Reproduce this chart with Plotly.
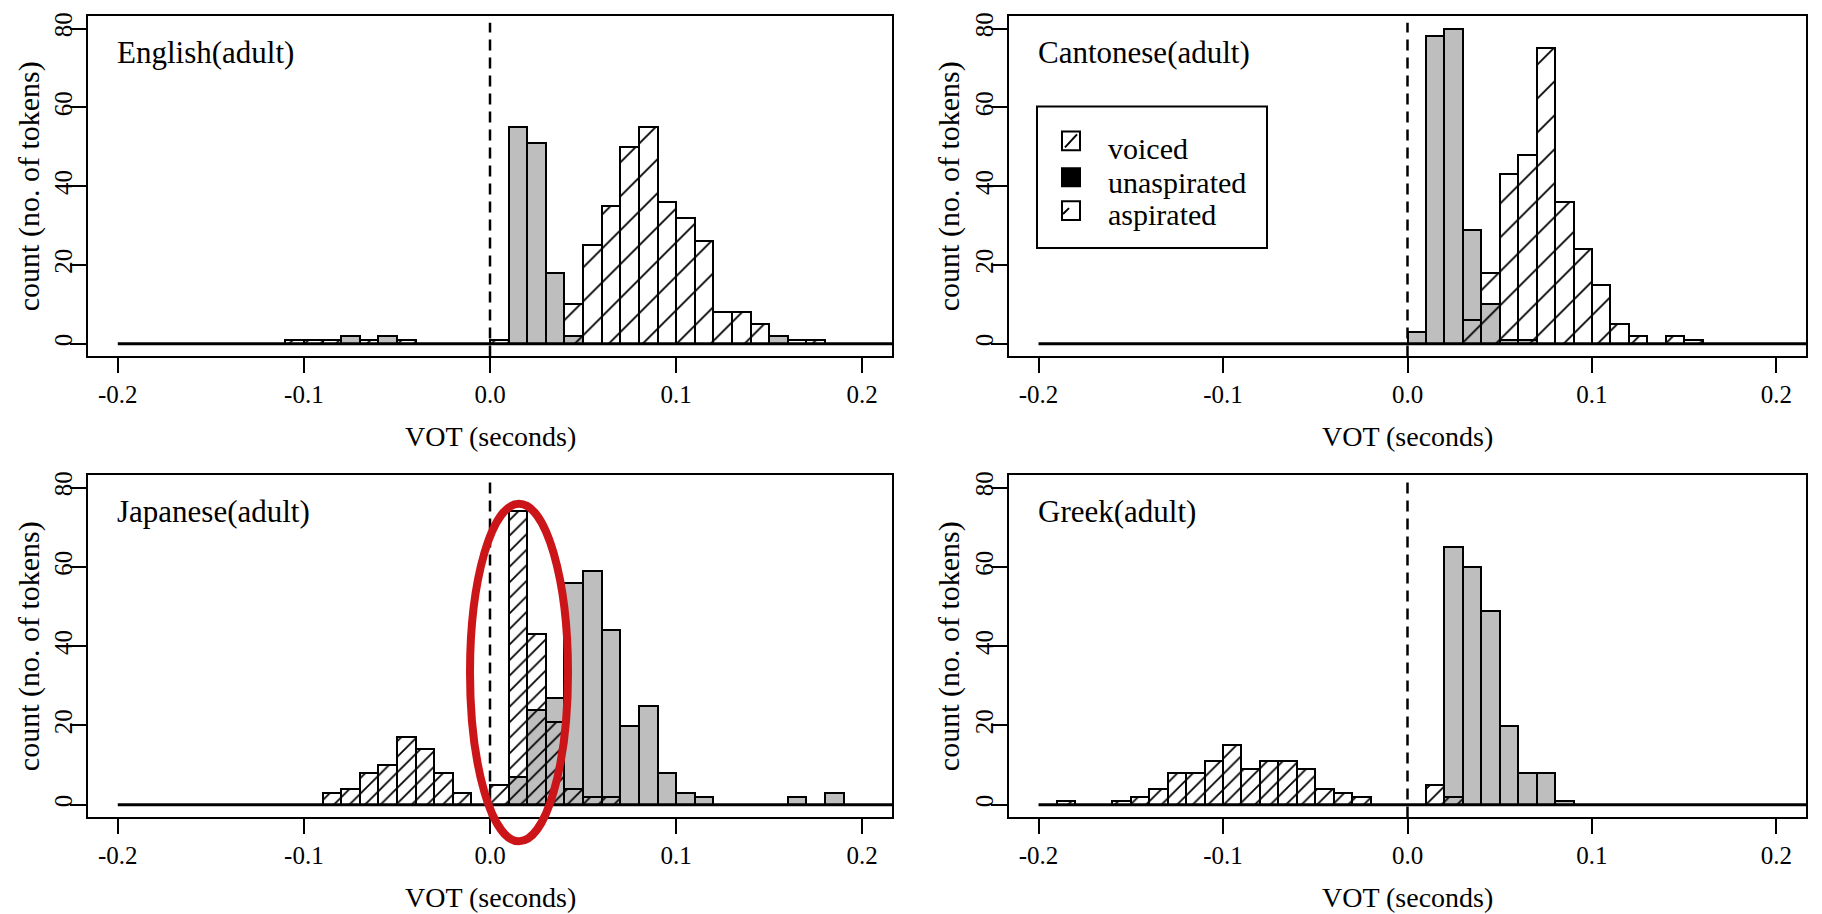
import plotly.graph_objects as go

W, H = 1822, 914
BIN_WIDTH = 0.01

PANEL_TITLES = ["English(adult)", "Cantonese(adult)", "Japanese(adult)", "Greek(adult)"]
X_TICKS = [-0.2, -0.1, 0.0, 0.1, 0.2]
X_TICK_LABELS = ["-0.2", "-0.1", "0.0", "0.1", "0.2"]
Y_TICKS = [0, 20, 40, 60, 80]
LEGEND_LABELS = ["voiced", "unaspirated", "aspirated"]

# ---- English (adult) : bin left edges and counts ----
ENG_VOICED_BINS = [-0.11, -0.10, -0.09, -0.07, -0.05, 0.00]
ENG_VOICED_COUNTS = [1, 1, 1, 1, 1, 1]
ENG_UNASP_BINS = [-0.08, -0.06, 0.01, 0.02, 0.03, 0.04, 0.15]
ENG_UNASP_COUNTS = [2, 2, 55, 51, 18, 2, 2]
ENG_ASP_BINS = [0.04, 0.05, 0.06, 0.07, 0.08, 0.09, 0.10, 0.11, 0.12, 0.13, 0.14, 0.16, 0.17]
ENG_ASP_COUNTS = [10, 25, 35, 50, 55, 36, 32, 26, 8, 8, 5, 1, 1]

# ---- Cantonese (adult) ----
CAN_VOICED_BINS = []
CAN_VOICED_COUNTS = []
CAN_UNASP_BINS = [0.00, 0.01, 0.02, 0.03, 0.04, 0.05, 0.06]
CAN_UNASP_COUNTS = [3, 78, 80, 29, 10, 1, 1]
CAN_ASP_BINS = [0.03, 0.04, 0.05, 0.06, 0.07, 0.08, 0.09, 0.10, 0.11, 0.12, 0.14, 0.15]
CAN_ASP_COUNTS = [6, 18, 43, 48, 75, 36, 24, 15, 5, 2, 2, 1]

# ---- Japanese (adult) ----
JPN_VOICED_BINS = [-0.09, -0.08, -0.07, -0.06, -0.05, -0.04, -0.03, -0.02,
                   0.00, 0.01, 0.02, 0.03, 0.04, 0.05, 0.06]
JPN_VOICED_COUNTS = [3, 4, 8, 10, 17, 14, 8, 3, 5, 74, 43, 21, 4, 2, 2]
JPN_UNASP_BINS = [0.01, 0.02, 0.03, 0.04, 0.05, 0.06, 0.07, 0.08, 0.09, 0.10, 0.11, 0.16, 0.18]
JPN_UNASP_COUNTS = [7, 24, 27, 56, 59, 44, 20, 25, 8, 3, 2, 2, 3]
JPN_ASP_BINS = []
JPN_ASP_COUNTS = []

# ---- Greek (adult) ----
GRK_VOICED_BINS = [-0.19, -0.16, -0.15, -0.14, -0.13, -0.12, -0.11, -0.10, -0.09,
                   -0.08, -0.07, -0.06, -0.05, -0.04, -0.03, 0.01, 0.02]
GRK_VOICED_COUNTS = [1, 1, 2, 4, 8, 8, 11, 15, 9, 11, 11, 9, 4, 3, 2, 5, 2]
GRK_UNASP_BINS = [0.02, 0.03, 0.04, 0.05, 0.06, 0.07, 0.08]
GRK_UNASP_COUNTS = [65, 60, 49, 20, 8, 8, 1]
GRK_ASP_BINS = []
GRK_ASP_COUNTS = []

PANELS = [
    (ENG_VOICED_BINS, ENG_VOICED_COUNTS, ENG_UNASP_BINS, ENG_UNASP_COUNTS, ENG_ASP_BINS, ENG_ASP_COUNTS),
    (CAN_VOICED_BINS, CAN_VOICED_COUNTS, CAN_UNASP_BINS, CAN_UNASP_COUNTS, CAN_ASP_BINS, CAN_ASP_COUNTS),
    (JPN_VOICED_BINS, JPN_VOICED_COUNTS, JPN_UNASP_BINS, JPN_UNASP_COUNTS, JPN_ASP_BINS, JPN_ASP_COUNTS),
    (GRK_VOICED_BINS, GRK_VOICED_COUNTS, GRK_UNASP_BINS, GRK_UNASP_COUNTS, GRK_ASP_BINS, GRK_ASP_COUNTS),
]

FONT = "Liberation Serif"
GREY = "#bebebe"

# layout geometry (pixels)
COLS = [(88, 892), (1009, 1806)]
ROWS = [(12, 354), (473, 817)]
XR = [-0.216, 0.216]
YR = [-3.2, 83.2]


def px(x, y):
    return x / W, 1 - y / H


fig = go.Figure()
shapes = []
annotations = []

for i, (vb, vc, ub, uc, ab, ac) in enumerate(PANELS):
    r, c = divmod(i, 2)
    xa = "x" if i == 0 else f"x{i+1}"
    ya = "y" if i == 0 else f"y{i+1}"
    # unaspirated (grey) first
    fig.add_trace(go.Bar(
        x=[b + BIN_WIDTH / 2 for b in ub], y=uc, width=BIN_WIDTH,
        marker=dict(color=GREY, line=dict(color="black", width=2)),
        xaxis=xa, yaxis=ya, showlegend=False, hoverinfo="skip"))
    # aspirated (sparse hatch)
    fig.add_trace(go.Bar(
        x=[b + BIN_WIDTH / 2 for b in ab], y=ac, width=BIN_WIDTH,
        marker=dict(color="black", line=dict(color="black", width=2),
                    pattern=dict(shape="/", size=24, solidity=0.075,
                                 fgcolor="black", bgcolor="rgba(0,0,0,0)", fillmode="replace")),
        xaxis=xa, yaxis=ya, showlegend=False, hoverinfo="skip"))
    # voiced (dense hatch)
    fig.add_trace(go.Bar(
        x=[b + BIN_WIDTH / 2 for b in vb], y=vc, width=BIN_WIDTH,
        marker=dict(color="black", line=dict(color="black", width=2),
                    pattern=dict(shape="/", size=11, solidity=0.16,
                                 fgcolor="black", bgcolor="rgba(0,0,0,0)", fillmode="replace")),
        xaxis=xa, yaxis=ya, showlegend=False, hoverinfo="skip"))

    x0, x1 = COLS[c]
    top, bot = ROWS[r]
    axis_common = dict(showline=True, mirror=True, linecolor="black", linewidth=2,
                       ticks="outside", tickcolor="black", tickwidth=2,
                       showgrid=False, zeroline=False,
                       tickfont=dict(family=FONT, size=25, color="black"))
    fig.layout[("xaxis" if i == 0 else f"xaxis{i+1}")] = dict(
        domain=[x0 / W, x1 / W], anchor=ya, range=XR,
        tickvals=X_TICKS, ticktext=X_TICK_LABELS, ticklen=15, **axis_common)
    fig.layout[("yaxis" if i == 0 else f"yaxis{i+1}")] = dict(
        domain=[1 - bot / H, 1 - top / H], anchor=xa, range=YR,
        tickvals=Y_TICKS, ticklen=16, tickangle=-90, ticklabelstandoff=-12, **axis_common)

    # baseline of zero-count bins
    shapes.append(dict(type="line", xref=xa, yref=ya, x0=-0.2, x1=0.22, y0=0, y1=0,
                       line=dict(color="black", width=3), layer="above"))
    # dashed line at VOT = 0
    shapes.append(dict(type="line", xref=xa, yref=ya, x0=0, x1=0, y0=YR[0], y1=81.5,
                       line=dict(color="black", width=2.5, dash="11px,7px"), layer="above"))
    # panel title
    annotations.append(dict(xref=xa, yref=ya, x=-0.2, y=74, text=PANEL_TITLES[i],
                            showarrow=False, xanchor="left", yanchor="middle", xshift=-3,
                            font=dict(family=FONT, size=31, color="black")))
    # x title
    annotations.append(dict(xref=xa, yref="paper", x=0, y=1 - (bot + 80) / H,
                            text="VOT (seconds)", showarrow=False,
                            xanchor="center", yanchor="middle",
                            font=dict(family=FONT, size=28, color="black")))
    # y title
    ytx = 29 if c == 0 else 949
    annotations.append(dict(xref="paper", yref="paper", x=ytx / W, y=1 - (top + bot) / 2 / H,
                            text="count (no. of tokens)", showarrow=False, textangle=-90,
                            xanchor="center", yanchor="middle",
                            font=dict(family=FONT, size=30, color="black")))

# legend (drawn in the Cantonese panel)
lx0, ly0 = px(1037, 103)
lx1, ly1 = px(1267, 245)
shapes.append(dict(type="rect", xref="paper", yref="paper", x0=lx0, y0=ly1, x1=lx1, y1=ly0,
                   line=dict(color="black", width=2), fillcolor="white", layer="above"))
sw = [(128, 147), (165, 183), (198, 217)]
text_y = [145, 179, 211]
for k, (sy0, sy1) in enumerate(sw):
    a0, b0 = px(1062, sy1)
    a1, b1 = px(1080, sy0)
    fill = "black" if k == 1 else "white"
    shapes.append(dict(type="rect", xref="paper", yref="paper", x0=a0, y0=b0, x1=a1, y1=b1,
                       line=dict(color="black", width=2), fillcolor=fill, layer="above"))
    if k == 0:
        p0 = px(1065, sy1 - 3)
        p1 = px(1077, sy0 + 3)
        shapes.append(dict(type="line", xref="paper", yref="paper", x0=p0[0], y0=p0[1],
                           x1=p1[0], y1=p1[1], line=dict(color="black", width=2), layer="above"))
    if k == 2:
        p0 = px(1063, sy1 - 6)
        p1 = px(1069, sy1 - 12)
        shapes.append(dict(type="line", xref="paper", yref="paper", x0=p0[0], y0=p0[1],
                           x1=p1[0], y1=p1[1], line=dict(color="black", width=2), layer="above"))
    tx, ty = px(1106, text_y[k])
    annotations.append(dict(xref="paper", yref="paper", x=tx, y=ty, text=LEGEND_LABELS[k],
                            showarrow=False, xanchor="left", yanchor="middle",
                            font=dict(family=FONT, size=30, color="black")))

# red ellipse highlighting the Japanese short-lag voiced tokens
e0 = px(470, 841)
e1 = px(568, 502)
shapes.append(dict(type="circle", xref="paper", yref="paper", x0=e0[0], y0=e0[1], x1=e1[0], y1=e1[1],
                   line=dict(color="#cc1518", width=8), layer="above"))

fig.update_layout(
    width=W, height=H, margin=dict(l=0, r=0, t=0, b=0),
    paper_bgcolor="white", plot_bgcolor="white",
    barmode="overlay", bargap=0, showlegend=False,
    shapes=shapes, annotations=annotations,
    font=dict(family=FONT, color="black"),
)

fig.write_html("out.html")
